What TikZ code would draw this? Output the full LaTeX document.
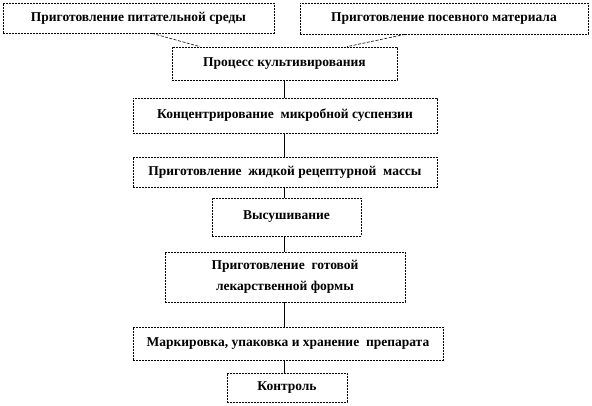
\documentclass[tikz,border=0pt]{standalone}
\usepackage{fontspec}
\setmainfont{Liberation Serif}
\begin{document}
\begin{tikzpicture}[x=1pt,y=-1pt,
    stage/.style={draw=black, dash pattern=on 2pt off 1pt, line width=.7pt, fill=white,
        inner sep=0pt, align=center, font=\bfseries\fontsize{13.5}{21}\selectfont},
    link/.style={draw=black, line width=.6pt},
    feed/.style={draw=black, line width=.6pt, dash pattern=on 3pt off 1.5pt}]
    \useasboundingbox (0,0) rectangle (592,406);
    % the two starting boxes
    \node[stage, minimum width=271, minimum height=30] (sreda) at (138.5,18) {Приготовление питательной среды};
    \node[stage, minimum width=288, minimum height=31] (posev) at (444,18.5) {Приготовление посевного материала};
    % main chain
    \node[stage, minimum width=225, minimum height=33] (kult) at (284.5,63.5) {Процесс культивирования};
    \node[stage, minimum width=304, minimum height=35] (konc) at (285,115.5) {Концентрирование\ \ микробной суспензии};
    \node[stage, minimum width=304, minimum height=30] (massa) at (285,172) {Приготовление\ \ жидкой рецептурной\ \ массы};
    \node[stage, minimum width=149, minimum height=38] (sush) at (286.5,217) {Высушивание};
    \node[stage, minimum width=240, minimum height=50] (forma) at (285,277) {Приготовление\ \ готовой\\лекарственной формы};
    \node[stage, minimum width=310, minimum height=33] (mark) at (288,343.5) {Маркировка, упаковка и хранение\ \ препарата};
    \node[stage, minimum width=120, minimum height=29] (kontr) at (287,387.5) {Контроль};
    % connectors
    \draw[feed] ([xshift=13.5pt]sreda.south) to ([xshift=-84.5pt]kult.north);
    \draw[feed] ([xshift=-39pt]posev.south) to ([xshift=62.5pt]kult.north);
    \draw[link] (kult.south) to (kult.south |- konc.north);
    \draw[link] (kult.south |- konc.south) to (kult.south |- massa.north);
    \draw[link] (kult.south |- massa.south) to (kult.south |- sush.north);
    \draw[link] (kult.south |- sush.south) to (kult.south |- forma.north);
    \draw[link] (kult.south |- forma.south) to (kult.south |- mark.north);
    \draw[link] (kult.south |- mark.south) to (kult.south |- kontr.north);
\end{tikzpicture}
\end{document}
